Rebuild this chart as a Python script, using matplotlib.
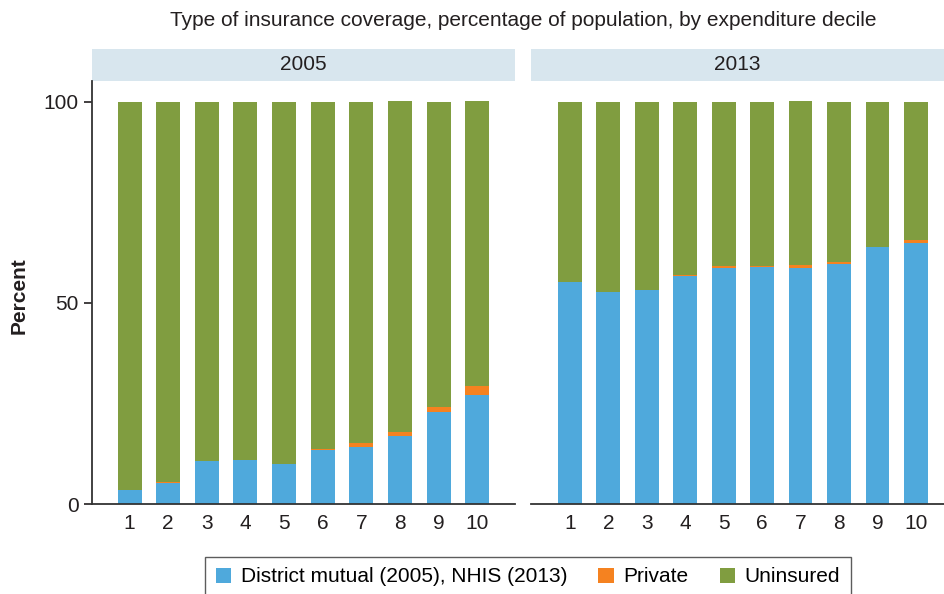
import matplotlib
matplotlib.use('Agg')
import matplotlib.pyplot as plt
from matplotlib.patches import Rectangle, Patch
import numpy as np

plt.rcParams['font.family'] = ['Liberation Sans', 'DejaVu Sans']

deciles = [1, 2, 3, 4, 5, 6, 7, 8, 9, 10]
years = ['2005', '2013']

# percent of population
mutual_2005 = [3.5, 5.1, 10.7, 10.9, 10.0, 13.4, 14.2, 16.9, 23.0, 27.1]
private_2005 = [0.0, 0.4, 0.0, 0.0, 0.0, 0.3, 1.0, 1.1, 1.0, 2.3]
uninsured_2005 = [96.5, 94.5, 89.3, 89.1, 90.0, 86.3, 84.8, 82.2, 76.0, 70.8]

nhis_2013 = [55.3, 52.8, 53.3, 56.8, 58.8, 59.0, 58.8, 59.8, 63.8, 64.9]
private_2013 = [0.0, 0.0, 0.0, 0.2, 0.5, 0.3, 0.7, 0.5, 0.1, 0.8]
uninsured_2013 = [44.7, 47.2, 46.7, 43.0, 40.7, 40.7, 40.7, 39.7, 36.1, 34.3]

legend_labels = ['District mutual (2005), NHIS (2013)', 'Private', 'Uninsured']

c_blue = '#4FA9DC'
c_orange = '#F58220'
c_green = '#809D40'
c_strip = '#D8E6EE'
c_text = '#231F20'
fs = 15

W, H = 945, 594
fig = plt.figure(figsize=(W / 100, H / 100), dpi=100)

def px_axes(x0, x1, y_top, y_bot):
    return fig.add_axes([x0 / W, 1 - y_bot / H, (x1 - x0) / W, (y_bot - y_top) / H])

ax1 = px_axes(92.5, 515, 81, 504)
ax2 = px_axes(531, 944, 81, 504)

panels = [
    (ax1, years[0], mutual_2005, private_2005, uninsured_2005, (0.04, 10.98)),
    (ax2, years[1], nhis_2013, private_2013, uninsured_2013, (-0.01, 10.73)),
]

x = np.array(deciles)
for ax, yr, base, priv, unins, xl in panels:
    base = np.array(base)
    priv = np.array(priv)
    unins = np.array(unins)
    ax.bar(x, base, width=0.62, color=c_blue, linewidth=0)
    ax.bar(x, priv, width=0.62, bottom=base, color=c_orange, linewidth=0)
    ax.bar(x, unins, width=0.62, bottom=base + priv, color=c_green, linewidth=0)
    ax.set_xlim(*xl)
    ax.set_ylim(0, 105.2)
    ax.set_xticks(deciles)
    ax.set_xticklabels([str(d) for d in deciles])
    ax.tick_params(axis='x', length=0, pad=7, labelsize=fs, colors=c_text)
    for s in ['top', 'right']:
        ax.spines[s].set_visible(False)
    ax.spines['bottom'].set_color('#333333')
    ax.spines['bottom'].set_linewidth(1.3)
    # strip header
    strip_h = 32 / 423
    ax.add_patch(Rectangle((0, 1.0), 1, strip_h, transform=ax.transAxes,
                           facecolor=c_strip, edgecolor='none', clip_on=False))
    ax.text(0.5, 1.0 + strip_h / 2, yr, transform=ax.transAxes, ha='center',
            va='center', fontsize=fs, color=c_text)

ax1.set_yticks([0, 50, 100])
ax1.tick_params(axis='y', length=6, width=1.2, pad=4, labelsize=fs, colors=c_text)
ax1.spines['left'].set_color('#333333')
ax1.spines['left'].set_linewidth(1.3)

ax2.spines['left'].set_visible(False)
ax2.set_yticks([])

fig.text(19 / W, 1 - 296 / H, 'Percent', rotation=90, ha='center', va='center',
         fontsize=fs, fontweight='bold', color=c_text)

fig.text(523 / W, 1 - 21 / H, 'Type of insurance coverage, percentage of population, by expenditure decile',
         ha='center', va='center', fontsize=fs, color=c_text)

handles = [Patch(facecolor=c_blue), Patch(facecolor=c_orange), Patch(facecolor=c_green)]
leg = fig.legend(handles, legend_labels, loc='center', bbox_to_anchor=(528 / W, 1 - 577 / H),
                 ncol=3, frameon=True, fontsize=fs, handlelength=0.75, handleheight=0.75,
                 handletextpad=0.45, columnspacing=1.5, borderpad=0.5, fancybox=False)
leg.get_frame().set_edgecolor('#333333')
leg.get_frame().set_linewidth(1.0)

fig.savefig('out.png', dpi=100)
